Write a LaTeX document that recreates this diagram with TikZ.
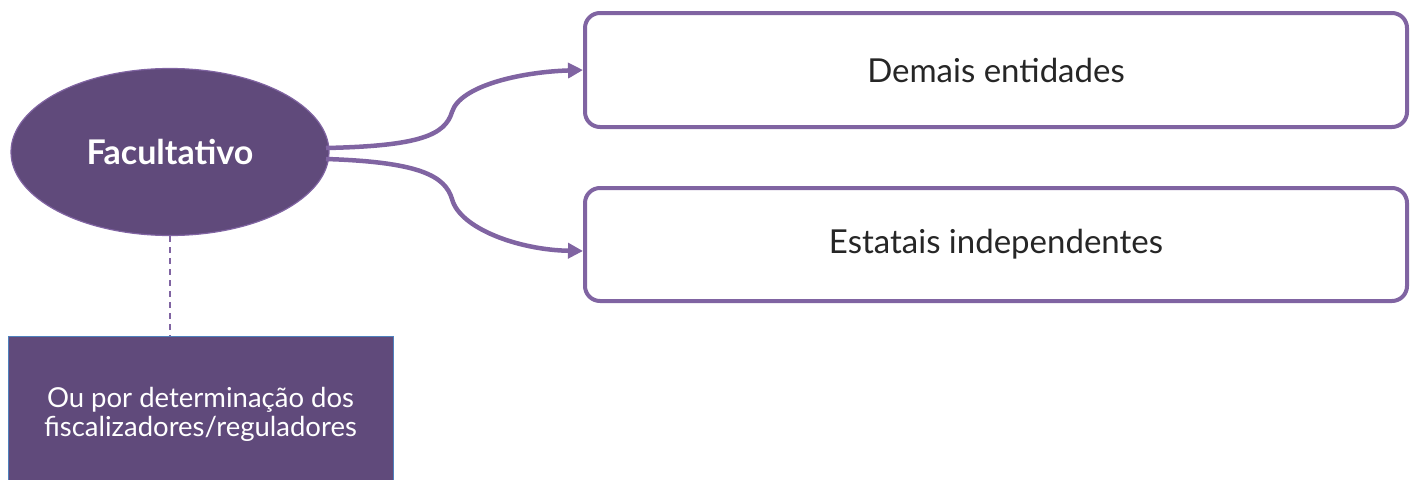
\documentclass[tikz,border=0pt]{standalone}
\usepackage{fontspec}
\setmainfont{Lato}
\usetikzlibrary{arrows.meta,shapes.geometric}
\definecolor{dpurple}{HTML}{604A7B}
\definecolor{lpurple}{HTML}{8064A2}
\definecolor{bblue}{HTML}{4F81BD}
\tikzset{
  mainell/.style={ellipse,fill=dpurple,draw=lpurple,line width=1.2pt,inner sep=0pt,minimum width=318pt,minimum height=167pt,text=white,font=\fontsize{34}{38}\selectfont\bfseries},
  outbox/.style={rectangle,rounded corners=15pt,draw=lpurple,line width=4pt,fill=white,inner sep=0pt,font=\fontsize{33}{38}\selectfont,text=black!85},
  notebox/.style={rectangle,fill=dpurple,draw=bblue,line width=1pt,inner sep=0pt,minimum width=385pt,minimum height=146pt,text=white,align=center,font=\fontsize{27.5}{29}\selectfont},
  conn/.style={draw=lpurple,line width=4.5pt,-{Triangle[length=15pt,width=15pt]}},
  dashconn/.style={draw=lpurple,line width=1.5pt,dash pattern=on 6pt off 5pt}
}
\begin{document}
\begin{tikzpicture}[x=1pt,y=-1pt]
\useasboundingbox (0,0) rectangle (1410,479);
\begin{scope}
\clip (0,0) rectangle (1410,479);
\node[notebox] (note) at (200.5,409) {};
\end{scope}
\node[text=white,align=center,font=\fontsize{27.5}{29}\selectfont,inner sep=0pt] (notetext) at (200.5,414.5) {Ou por determinação dos\\fiscalizadores/reguladores};
\node[outbox,minimum width=822pt,minimum height=114pt] (b1) at (996,70) {Demais entidades};
\node[outbox,minimum width=822pt,minimum height=113pt] (b2) at (996,244.5) {\raisebox{-2pt}{Estatais independentes}};
\node[mainell] (e) at (170,152) {Facultativo};
\coordinate (s1) at (326,148);
\coordinate (s2) at (326,159);
\draw[conn] (s1) .. controls (420,146) and (445,135) .. (452,112) .. controls (460,86) and (520,72) .. (b1.west);
\draw[conn] (s2) .. controls (420,162) and (445,176) .. (452,199) .. controls (460,229) and (520,250) .. (b2.west |- 0,251);
\draw[dashconn] (e.south) -- (e.south |- note.north);
\end{tikzpicture}
\end{document}
